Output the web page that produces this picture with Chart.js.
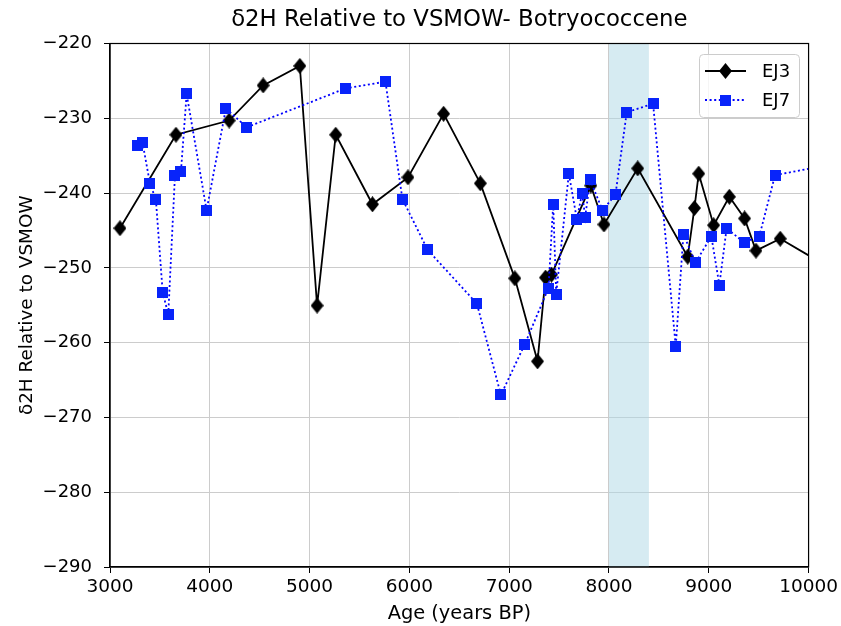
<!DOCTYPE html>
<html>
<head>
<meta charset="utf-8">
<title>d2H Botryococcene</title>
<script src="https://cdn.jsdelivr.net/npm/chart.js@4.4.1/dist/chart.umd.min.js"></script>
<style>
    html, body { margin: 0; padding: 0; background: #fff; }
    #chartContainer { width: 841px; height: 626px; }
</style>
</head>
<body>
<div id="chartContainer"><canvas id="chart" width="841" height="626"></canvas></div>
<script>
// werte (alter in jahren BP, d2H in promille)
const ej3Age = [3100, 3661, 4194, 4535, 4902, 5075, 5262, 5630, 5986, 6343, 6711, 7057, 7284, 7364, 7424,
    7818, 7950, 8288, 8789, 8856, 8899, 9049, 9206, 9359, 9473, 9716, 10200];
const ej3D2H = [-244.7, -232.2, -230.3, -225.6, -223.0, -255.05, -232.2, -241.5, -237.9, -229.4, -238.7, -251.4, -262.5, -251.3, -250.9,
    -239.0, -244.2, -236.7, -248.5, -242.0, -237.4, -244.3, -240.5, -243.4, -247.7, -246.1, -249.9];

const ej7Age = [3273, 3327, 3400, 3460, 3528, 3584, 3651, 3711, 3768, 3968, 4161, 4371, 5362, 5760, 5930, 6183,
    6677, 6917, 7157, 7394, 7441, 7471, 7598, 7678, 7731, 7761, 7812, 7935, 8065, 8178, 8442,
    8669, 8746, 8866, 9026, 9106, 9179, 9353, 9506, 9664, 10300];
const ej7D2H = [-233.6, -233.3, -238.7, -240.9, -253.3, -256.2, -237.6, -237.1, -226.75, -242.3, -228.7, -231.2, -226.0, -225.1, -240.8, -247.6,
    -254.8, -267.0, -260.2, -252.7, -241.5, -253.5, -237.4, -243.5, -240.0, -243.2, -238.25, -242.3, -240.2, -229.2, -228.05,
    -260.5, -245.5, -249.3, -245.8, -252.3, -244.7, -246.6, -245.8, -237.6, -236.0];

// markierter zeitraum (hellblau)
const bandRange = [8000, 8400];

// achsen
const xRange = [3000, 10000];
const yRange = [-290, -220];

const titleText = 'δ2H Relative to VSMOW- Botryococcene';
const FONT = "'DejaVu Sans', sans-serif";

// marker als kleine canvas bilder
function makeDiamond(w, h, color) {
    const c = document.createElement('canvas');
    c.width = w; c.height = h;
    const g = c.getContext('2d');
    g.fillStyle = color;
    g.beginPath();
    g.moveTo(w / 2, 0); g.lineTo(w, h / 2); g.lineTo(w / 2, h); g.lineTo(0, h / 2);
    g.closePath();
    g.fill();
    return c;
}
function makeSquare(s, color) {
    const c = document.createElement('canvas');
    c.width = s; c.height = s;
    const g = c.getContext('2d');
    g.fillStyle = color;
    g.fillRect(0, 0, s, s);
    return c;
}
const diamondImg = makeDiamond(13, 16, '#000');
const squareImg = makeSquare(11, 'rgb(8,36,250)');

function toPoints(xs, ys) {
    return xs.map((x, i) => ({ x: x, y: ys[i] }));
}

// hellblauer balken hinter den linien
const bandPlugin = {
    id: 'band',
    beforeDatasetsDraw(chart) {
        const { ctx, chartArea, scales } = chart;
        const x0 = scales.x.getPixelForValue(bandRange[0]);
        const x1 = scales.x.getPixelForValue(bandRange[1]);
        ctx.save();
        ctx.fillStyle = 'rgba(173,216,230,0.5)';
        ctx.fillRect(x0, chartArea.top, x1 - x0, chartArea.bottom - chartArea.top);
        ctx.restore();
    }
};

// rahmen, titel + legende wie bei matplotlib
const framePlugin = {
    id: 'frame',
    afterDraw(chart) {
        const { ctx, chartArea } = chart;
        ctx.save();
        ctx.strokeStyle = '#000';
        ctx.lineWidth = 1.2;
        ctx.strokeRect(chartArea.left, chartArea.top, chartArea.right - chartArea.left, chartArea.bottom - chartArea.top);

        // titel ueber der zeichenflaeche zentriert
        ctx.fillStyle = '#000';
        ctx.font = '22.8px ' + FONT;
        ctx.textAlign = 'center';
        ctx.textBaseline = 'middle';
        ctx.fillText(titleText, (chartArea.left + chartArea.right) / 2, 20);

        // legende
        const bx = 699, by = 54, bw = 100, bh = 63;
        ctx.fillStyle = 'rgba(255,255,255,0.8)';
        ctx.strokeStyle = '#cccccc';
        ctx.lineWidth = 1;
        ctx.beginPath();
        ctx.roundRect(bx + 0.5, by + 0.5, bw, bh, 4);
        ctx.fill();
        ctx.stroke();

        const entries = [
            { label: 'EJ3', y: 71, color: '#000', dash: [], img: diamondImg },
            { label: 'EJ7', y: 100, color: '#0000ff', dash: [2, 2.6], img: squareImg }
        ];
        entries.forEach(function(e) {
            ctx.strokeStyle = e.color;
            ctx.lineWidth = 1.8;
            ctx.setLineDash(e.dash);
            ctx.beginPath();
            ctx.moveTo(705, e.y);
            ctx.lineTo(746, e.y);
            ctx.stroke();
            ctx.setLineDash([]);
            ctx.drawImage(e.img, 725.5 - e.img.width / 2, e.y - e.img.height / 2);
            ctx.fillStyle = '#000';
            ctx.font = '18px ' + FONT;
            ctx.textBaseline = 'middle';
            ctx.textAlign = 'left';
            ctx.fillText(e.label, 762, e.y + 1);
        });
        ctx.restore();
    }
};

const ctx = document.getElementById('chart');
const myChart = new Chart(ctx, {
    type: 'line',
    data: {
        datasets: [{
            label: 'EJ7',
            data: toPoints(ej7Age, ej7D2H),
            borderColor: '#0000ff',
            borderWidth: 1.8,
            borderDash: [2, 2.6],
            pointStyle: squareImg,
            pointRadius: 6,
            clip: 0,
            order: 0
        }, {
            label: 'EJ3',
            data: toPoints(ej3Age, ej3D2H),
            borderColor: '#000',
            borderWidth: 1.8,
            pointStyle: diamondImg,
            pointRadius: 7,
            clip: 0,
            order: 1
        }]
    },
    options: {
        responsive: false,
        animation: false,
        layout: { padding: { left: 0, right: 32, top: 43.5, bottom: 0 } },
        plugins: {
            legend: { display: false },
            tooltip: { enabled: false },
            title: { display: false }
        },
        scales: {
            x: {
                type: 'linear',
                min: xRange[0],
                max: xRange[1],
                ticks: {
                    stepSize: 1000,
                    color: '#000',
                    font: { family: FONT, size: 18.5 },
                    padding: 3,
                    maxRotation: 0,
                    callback: function(v) { return String(v); }
                },
                grid: { color: '#cccccc', lineWidth: 1, tickColor: '#000', tickLength: 6 },
                border: { color: '#000', width: 1.2 },
                title: {
                    display: true,
                    text: 'Age (years BP)',
                    color: '#000',
                    font: { family: FONT, size: 19.4 },
                    padding: { top: 0, bottom: 0 }
                },
                afterFit: function(scale) { scale.height = 59; }
            },
            y: {
                type: 'linear',
                min: yRange[0],
                max: yRange[1],
                ticks: {
                    stepSize: 10,
                    color: '#000',
                    font: { family: FONT, size: 18 },
                    padding: 12,
                    callback: function(v) { return v < 0 ? '\u2212' + Math.abs(v) : String(v); }
                },
                grid: { color: '#cccccc', lineWidth: 1, tickColor: '#000', tickLength: 6 },
                border: { color: '#000', width: 1.2 },
                title: {
                    display: true,
                    text: 'δ2H Relative to VSMOW',
                    color: '#000',
                    font: { family: FONT, size: 18.4 },
                    padding: { top: 16, bottom: 16 }
                },
                afterFit: function(scale) { scale.width = 110; }
            }
        }
    },
    plugins: [bandPlugin, framePlugin]
});
</script>
</body>
</html>
